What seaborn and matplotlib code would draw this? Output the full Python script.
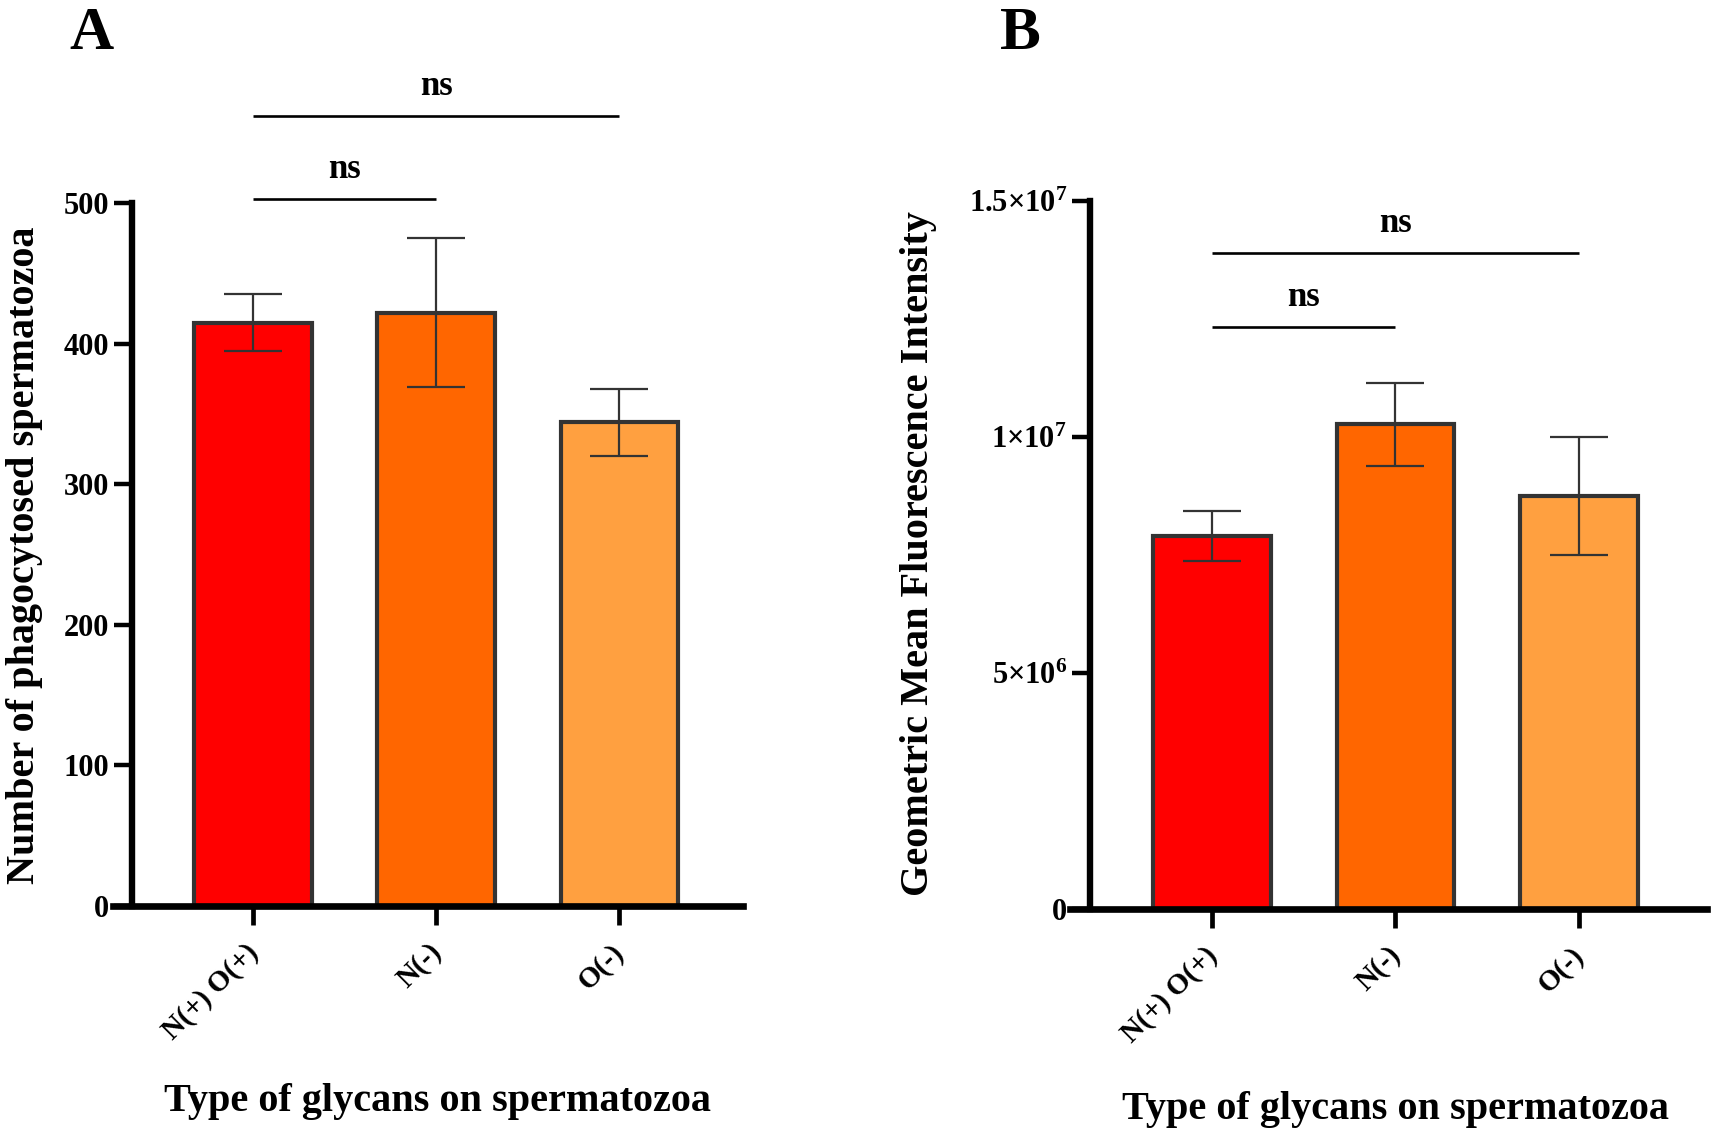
import matplotlib
matplotlib.use("Agg")
import matplotlib.pyplot as plt
import seaborn as sns
import pandas as pd
from matplotlib.transforms import ScaledTranslation

# data
categories = ["N(+) O(+)", "N(-)", "O(-)"]
bar_colors = ["#FF0000", "#FF6600", "#FFA040"]

phago_mean = [415, 422, 344]
phago_sem = [20, 53, 24]

gmfi_mean = [7.9e6, 1.027e7, 8.75e6]
gmfi_sem = [0.53e6, 0.88e6, 1.25e6]

phago_ticks = [0, 100, 200, 300, 400, 500]
phago_ticklabels = ["0", "100", "200", "300", "400", "500"]
gmfi_ticks = [0, 5e6, 1e7, 1.5e7]
gmfi_ticklabels = ["0", r"$5×10^{6}$", r"$1×10^{7}$", r"$1.5×10^{7}$"]

# (first bar, second bar, line height, label)
phago_brackets = [(0, 1, 503, "ns"), (0, 2, 562, "ns")]
gmfi_brackets = [(0, 1, 1.234e7, "ns"), (0, 2, 1.39e7, "ns")]

sns.set_theme(style="ticks")
plt.rcParams["font.family"] = ["Liberation Serif", "DejaVu Serif"]
plt.rcParams["font.weight"] = "bold"
plt.rcParams["text.color"] = "black"
plt.rcParams["axes.labelcolor"] = "black"
plt.rcParams["xtick.color"] = "black"
plt.rcParams["ytick.color"] = "black"
plt.rcParams["xtick.labelcolor"] = "black"
plt.rcParams["ytick.labelcolor"] = "black"
plt.rcParams["mathtext.fontset"] = "custom"
plt.rcParams["mathtext.rm"] = "Liberation Serif:bold"
plt.rcParams["mathtext.it"] = "Liberation Serif:bold"
plt.rcParams["mathtext.bf"] = "Liberation Serif:bold"

W, H = 1713, 1133
fig = plt.figure(figsize=(W / 100, H / 100), dpi=100)
fig.patch.set_facecolor("white")

DARK = "#333333"


def draw_panel(ax, means, sems, ticks, ticklabels, brackets, xlim, spine_x):
    df = pd.DataFrame({"group": categories, "value": means})
    sns.barplot(data=df, x="group", y="value", hue="group", palette=bar_colors,
                saturation=1, width=0.64, edgecolor=DARK, linewidth=3,
                errorbar=None, legend=False, ax=ax)
    ax.errorbar(range(len(means)), means, yerr=sems, fmt="none", ecolor=DARK,
                elinewidth=1.6, capsize=21, capthick=1.6, zorder=3)

    ax.set_xlim(*xlim)
    ax.set_ylim(0, ticks[-1])
    ax.set_facecolor("white")
    for s in ["top", "right"]:
        ax.spines[s].set_visible(False)
    ax.spines["left"].set_position(("data", spine_x))
    ax.spines["left"].set_bounds(0, ticks[-1])
    ax.spines["left"].set_linewidth(4.6)
    ax.spines["bottom"].set_linewidth(4.8)
    ax.spines["left"].set_color("black")
    ax.spines["bottom"].set_color("black")

    ax.set_yticks(ticks)
    ax.set_yticklabels(ticklabels)
    ax.tick_params(axis="y", length=13, width=3.2, labelsize=22, pad=3.5,
                   color="black", labelcolor="black", direction="out")
    ax.tick_params(axis="x", length=13.5, width=3.4, labelsize=21, pad=10,
                   color="black", labelcolor="black", direction="out")
    ax.set_xticks(range(len(categories)))
    ax.set_xticklabels(categories, rotation=45, ha="right", va="top",
                       rotation_mode="anchor")
    for lbl in ax.get_xticklabels():
        lbl.set_transform(lbl.get_transform() + ScaledTranslation(-6 / 72, 0, fig.dpi_scale_trans))
    ax.set_xlabel("")
    ax.set_ylabel("")

    for a, b, h, txt in brackets:
        ax.plot([a, b], [h, h], color="black", lw=1.9, clip_on=False,
                solid_capstyle="butt")
        ax.annotate(txt, xy=((a + b) / 2, h), xytext=(0, 21),
                    textcoords="offset points", ha="center", va="center",
                    fontsize=25, fontweight="bold", color="black",
                    annotation_clip=False)


# panel A
axA = fig.add_axes([113 / W, 1 - 906 / H, (743 - 113) / W, (906 - 203) / H])
draw_panel(axA, phago_mean, phago_sem, phago_ticks, phago_ticklabels,
           phago_brackets, (-0.765, 2.677), -0.661)

# panel B
axB = fig.add_axes([1070 / W, 1 - 909 / H, (1707 - 1070) / W, (909 - 201) / H])
draw_panel(axB, gmfi_mean, gmfi_sem, gmfi_ticks, gmfi_ticklabels,
           gmfi_brackets, (-0.774, 2.698), -0.665)

# axis titles
fig.text(25 / W, 1 - 555 / H, "Number of phagocytosed spermatozoa", rotation=90,
         ha="center", va="center", fontsize=29, fontweight="bold")
fig.text(919 / W, 1 - 554 / H, "Geometric Mean Fluorescence Intensity", rotation=90,
         ha="center", va="center", fontsize=29, fontweight="bold")
fig.text(437 / W, 1 - 1101 / H, "Type of glycans on spermatozoa",
         ha="center", va="center", fontsize=29, fontweight="bold")
fig.text(1396 / W, 1 - 1110 / H, "Type of glycans on spermatozoa",
         ha="center", va="center", fontsize=29, fontweight="bold")

# panel letters
fig.text(69 / W, 1 - 49 / H, "A", ha="left", va="baseline", fontsize=44, fontweight="bold")
fig.text(1000 / W, 1 - 49 / H, "B", ha="left", va="baseline", fontsize=44, fontweight="bold")

fig.savefig("out.png", dpi=100, facecolor="white")
